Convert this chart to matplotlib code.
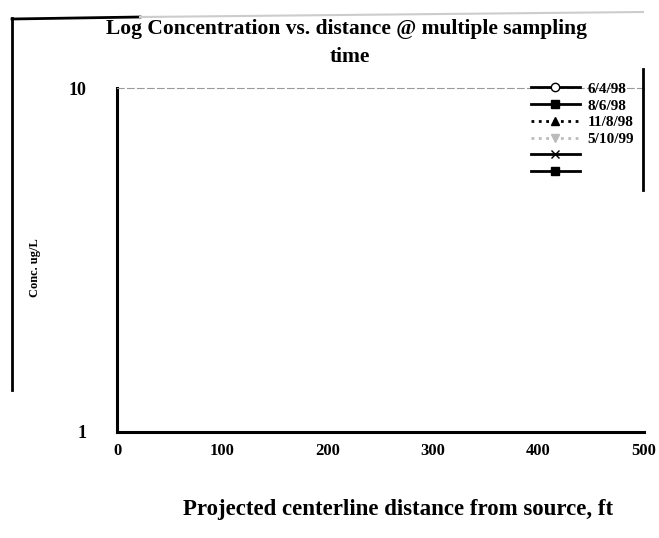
import matplotlib.pyplot as plt
from matplotlib.lines import Line2D

# sampling dates shown in the legend (no points survive in the scan)
dates = ["6/4/98", "8/6/98", "11/8/98", "5/10/99", " ", "  "]
distance = [[], [], [], [], [], []]
conc = [[], [], [], [], [], []]
xticks = [0, 100, 200, 300, 400, 500]
yticks = [1, 10]

styles = [
    dict(color="black", ls="-", marker="o", mfc="white"),
    dict(color="black", ls="-", marker="s"),
    dict(color="black", ls=":", marker="^"),
    dict(color="#bbbbbb", ls=":", marker="v"),
    dict(color="black", ls="-", marker="x"),
    dict(color="black", ls="-", marker="s"),
]

plt.rcParams["font.family"] = ["Liberation Serif", "DejaVu Serif"]
plt.rcParams["font.weight"] = "bold"

fig = plt.figure(figsize=(6.59, 5.38), dpi=100)
left, right, top, bottom = 117, 644, 88, 432
ax = fig.add_axes([left / 659, 1 - bottom / 538, (right - left) / 659, (bottom - top) / 538])

for d, x, y, st in zip(dates, distance, conc, styles):
    ax.plot(x, y, label=d, lw=2, ms=6, **st)

ax.set_yscale("log")
ax.set_ylim(1, 10)
ax.set_xlim(xticks[0], xticks[-1])
ax.set_yticks(yticks)
ax.set_yticklabels([str(v) for v in yticks], fontsize=13, fontweight="bold")
ax.minorticks_off()
ax.set_xticks(xticks)
ax.set_xticklabels([str(v) for v in xticks], fontsize=12, fontweight="bold")
ax.tick_params(axis="y", length=0, pad=22)
ax.tick_params(axis="x", length=0, pad=8)

ax.spines["right"].set_visible(False)
ax.spines["top"].set_linestyle((0, (6, 3)))
ax.spines["top"].set_color("#999999")
ax.spines["left"].set_linewidth(2.2)
ax.spines["bottom"].set_linewidth(2.2)

leg = ax.legend(loc="upper right", frameon=False, fontsize=11, handlelength=3.2,
                borderaxespad=0.0, labelspacing=0.2, handletextpad=0.5,
                bbox_to_anchor=((640 - left) / (right - left), 1.035))
for t in leg.get_texts():
    t.set_fontweight("bold")

fig.text(346 / 659, 1 - 29 / 538, "Log Concentration vs. distance @ multiple sampling",
         ha="center", va="center", fontsize=15.5, fontweight="bold")
fig.text(350 / 659, 1 - 57 / 538, "time", ha="center", va="center", fontsize=15.5, fontweight="bold")
fig.text(35 / 659, 1 - 268 / 538, "Conc. ug/L", rotation=90, ha="center", va="center",
         fontsize=9, fontweight="bold")
fig.text(398 / 659, 1 - 510 / 538, "Projected centerline distance from source, ft",
         ha="center", va="center", fontsize=16.5, fontweight="bold")

# scanned page frame
fig.add_artist(Line2D([12 / 659, 12 / 659], [1 - 18 / 538, 1 - 390 / 538], color="black", lw=2))
fig.add_artist(Line2D([12 / 659, 140 / 659], [1 - 19 / 538, 1 - 17 / 538], color="black", lw=2))
fig.add_artist(Line2D([140 / 659, 643 / 659], [1 - 17 / 538, 1 - 12 / 538], color="#cccccc", lw=1.5))
fig.add_artist(Line2D([643 / 659, 643 / 659], [1 - 69 / 538, 1 - 190 / 538], color="black", lw=2))

fig.savefig("out.png", dpi=100)
